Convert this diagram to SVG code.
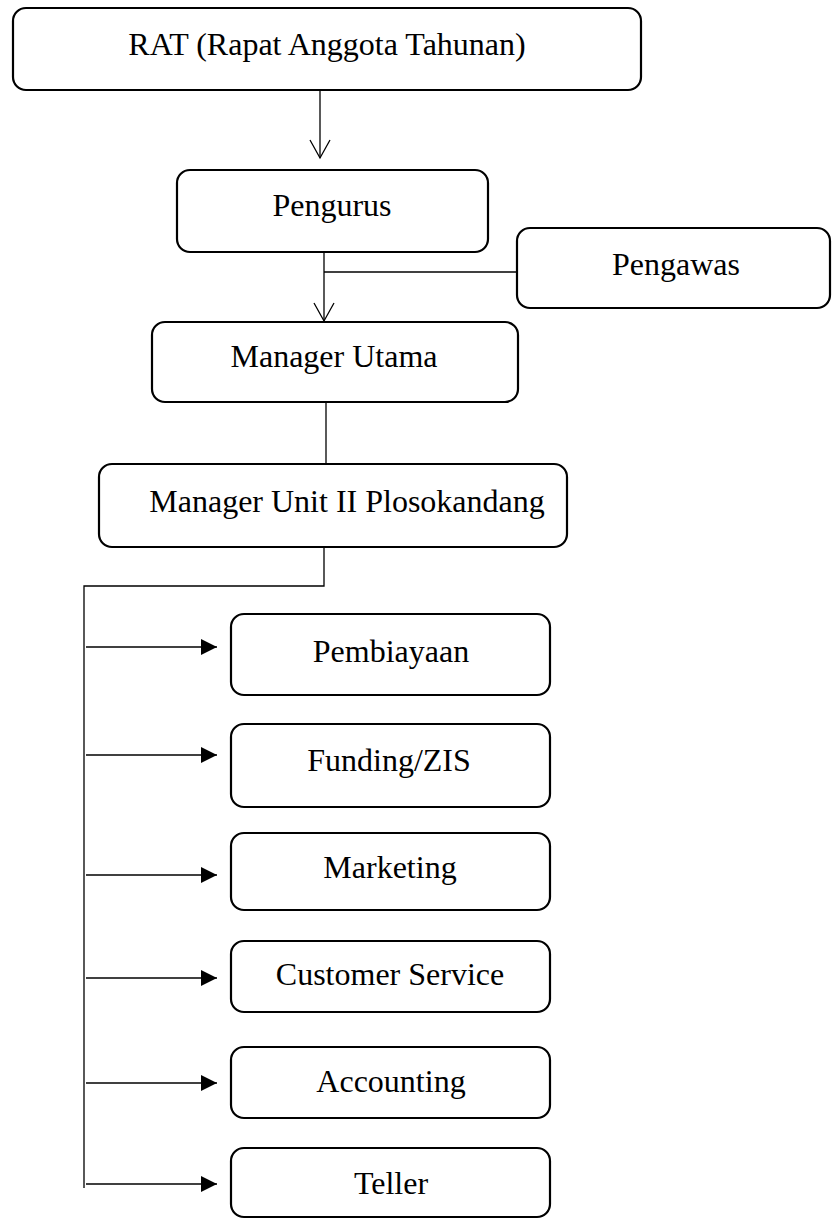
<svg xmlns="http://www.w3.org/2000/svg" width="832" height="1219" viewBox="0 0 832 1219">
<defs>
<style>
.box{fill:#fff;stroke:#000;stroke-width:2.2}
.t{font-family:"Liberation Serif","Times New Roman",serif;font-size:32px;fill:#000;text-anchor:middle}
.ln{fill:none;stroke:#000;stroke-width:1.3}
</style>
<marker id="open" viewBox="0 0 24 22" refX="22" refY="11" markerWidth="24" markerHeight="22" markerUnits="userSpaceOnUse" orient="auto">
<path d="M4,1 L22,11 L4,21" fill="none" stroke="#000" stroke-width="1.3"/>
</marker>
<marker id="fill" viewBox="0 0 16 16" refX="16" refY="8" markerWidth="16" markerHeight="16" markerUnits="userSpaceOnUse" orient="auto">
<path d="M0,0 L16,8 L0,16 Z" fill="#000"/>
</marker>
</defs>
<g id="connectors">
<line class="ln" x1="320" y1="90" x2="320" y2="158" marker-end="url(#open)"/>
<line class="ln" x1="324" y1="252" x2="324" y2="321" marker-end="url(#open)"/>
<line class="ln" x1="324" y1="272" x2="517" y2="272"/>
<line class="ln" x1="326" y1="402" x2="326" y2="464"/>
<polyline class="ln" points="324,547 324,586 84,586 84,1188"/>
<line class="ln" x1="86" y1="647" x2="217" y2="647" marker-end="url(#fill)"/>
<line class="ln" x1="86" y1="755" x2="217" y2="755" marker-end="url(#fill)"/>
<line class="ln" x1="86" y1="875" x2="217" y2="875" marker-end="url(#fill)"/>
<line class="ln" x1="86" y1="978" x2="217" y2="978" marker-end="url(#fill)"/>
<line class="ln" x1="86" y1="1083" x2="217" y2="1083" marker-end="url(#fill)"/>
<line class="ln" x1="86" y1="1184" x2="217" y2="1184" marker-end="url(#fill)"/>
</g>
<g id="rat"><rect class="box" x="13" y="8" width="628" height="82" rx="13"/><text class="t" x="327" y="55">RAT (Rapat Anggota Tahunan)</text></g>
<g id="pengurus"><rect class="box" x="177" y="170" width="311" height="82" rx="13"/><text class="t" x="332" y="216">Pengurus</text></g>
<g id="pengawas"><rect class="box" x="517" y="228" width="313" height="80" rx="13"/><text class="t" x="676" y="275">Pengawas</text></g>
<g id="manager-utama"><rect class="box" x="152" y="322" width="366" height="80" rx="13"/><text class="t" x="334" y="367">Manager Utama</text></g>
<g id="manager-unit"><rect class="box" x="99" y="464" width="468" height="83" rx="13"/><text class="t" x="347" y="512">Manager Unit II Plosokandang</text></g>
<g id="pembiayaan"><rect class="box" x="231" y="614" width="319" height="81" rx="13"/><text class="t" x="391" y="662">Pembiayaan</text></g>
<g id="funding"><rect class="box" x="231" y="724" width="319" height="83" rx="13"/><text class="t" x="389" y="771">Funding/ZIS</text></g>
<g id="marketing"><rect class="box" x="231" y="833" width="319" height="77" rx="13"/><text class="t" x="390" y="878">Marketing</text></g>
<g id="customer-service"><rect class="box" x="231" y="941" width="319" height="71" rx="13"/><text class="t" x="390" y="985">Customer Service</text></g>
<g id="accounting"><rect class="box" x="231" y="1047" width="319" height="71" rx="13"/><text class="t" x="391" y="1092">Accounting</text></g>
<g id="teller"><rect class="box" x="231" y="1148" width="319" height="69" rx="13"/><text class="t" x="391" y="1194">Teller</text></g>
</svg>
